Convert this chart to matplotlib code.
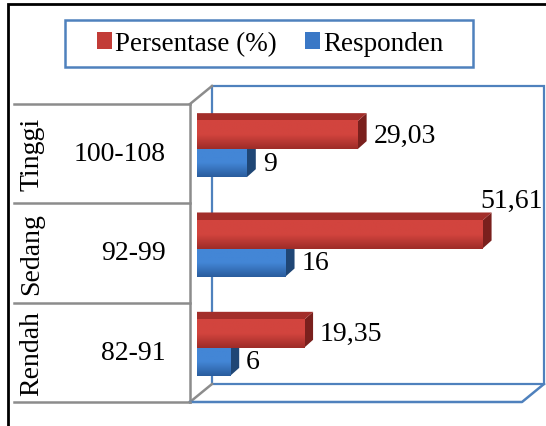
import matplotlib.pyplot as plt
import numpy as np
from matplotlib.patches import Polygon, Rectangle, Patch
from matplotlib.colors import LinearSegmentedColormap

categories = ['Rendah', 'Sedang', 'Tinggi']
ranges = ['82-91', '92-99', '100-108']
persentase = [19.35, 51.61, 29.03]
responden = [6, 16, 9]
persentase_labels = ['19,35', '51,61', '29,03']
responden_labels = ['6', '16', '9']

plt.rcParams['font.family'] = ['Liberation Serif', 'DejaVu Serif']
FS = 20

W, H, DPI = 546, 427, 100
fig = plt.figure(figsize=(W / DPI, H / DPI), dpi=DPI)


def px_box(x0, y0, x1, y1):
    # pixel box (y measured from top) -> figure fraction rect
    return [x0 / W, 1 - y1 / H, (x1 - x0) / W, (y1 - y0) / H]


# outer frame
fig.add_artist(Rectangle((8 / W, -0.2), 1.2, 1 - 5 / H + 0.2, transform=fig.transFigure,
                         fill=False, edgecolor='black', lw=2))

# front plane of the 3d plot area
ax = fig.add_axes(px_box(190, 105, 522, 403))
XMAX = 60
ax.set_xlim(0, XMAX)
ax.set_ylim(0, 3)
ax.axis('off')
sx = (522 - 190) / XMAX
sy = (403 - 105) / 3


def off(px, py):
    return px / sx, py / sy


grey = '#8c8c8c'
blue_edge = '#4f81bd'
dX, dY = off(22, 18)

# walls
ax.plot([0, 0], [0, 3], color=grey, lw=1.8, clip_on=False)
ax.plot([0, dX], [3, 3 + dY], color=grey, lw=1.8, clip_on=False)
ax.plot([0, dX], [0, dY], color=grey, lw=1.8, clip_on=False)
ax.add_patch(Rectangle((dX, dY), XMAX, 3, fill=False, edgecolor=blue_edge, lw=1.6, clip_on=False))
ax.plot([0, XMAX, XMAX + dX], [0, 0, dY], color=blue_edge, lw=1.8, clip_on=False)

# table on the left
tx0 = -(190 - 14) / sx
for yy in range(4):
    ax.plot([tx0, 0], [yy, yy], color=grey, lw=1.8, clip_on=False)
for i, (cat, rng) in enumerate(zip(categories, ranges)):
    ax.text(-(190 - 166) / sx, i + 0.5, rng, ha='right', va='center', fontsize=FS)
    ax.text(-(190 - 32) / sx, i + 0.5, cat, ha='center', va='center', rotation=90, fontsize=FS)

# bars
fx, fy = off(7, 4.5)    # front face depth offset
bx, by = off(9, 8)      # bar depth
bh = 0.282

red = dict(front=('#d2443e', '#9e2c28'), top='#a32e2a', side='#7a201d')
blu = dict(front=('#4386d6', '#2a5d9e'), top='#2f63a6', side='#1f4675')


def bar3d(v, y0, st, z):
    x0 = fx
    y0 = y0 + fy
    y1 = y0 + bh
    xe = v + fx
    ax.add_patch(Polygon([(xe, y0), (xe + bx, y0 + by), (xe + bx, y1 + by), (xe, y1)],
                         closed=True, facecolor=st['side'], edgecolor='none', clip_on=False, zorder=z))
    ax.add_patch(Polygon([(x0, y1), (xe, y1), (xe + bx, y1 + by), (x0, y1 + by)],
                         closed=True, facecolor=st['top'], edgecolor='none', clip_on=False, zorder=z))
    cmap = LinearSegmentedColormap.from_list('g', [st['front'][1], st['front'][0], st['front'][0]])
    im = ax.imshow(np.linspace(0, 1, 50)[:, None], cmap=cmap, origin='lower', aspect='auto',
                   extent=(x0, xe, y0, y1), interpolation='bilinear', zorder=z + 0.5)
    im.set_clip_on(False)
    return xe, (y0 + y1) / 2, y1


for i in range(3):
    c = i + 0.5
    xe, yc, _ = bar3d(responden[i], c - bh, blu, 2)
    ax.annotate(responden_labels[i], (xe, yc), xytext=(16, 0), textcoords='offset pixels',
                ha='left', va='center', fontsize=FS, annotation_clip=False)
    xe, yc, yt = bar3d(persentase[i], c, red, 4)
    if xe + bx > XMAX * 0.75:
        ax.annotate(persentase_labels[i], (XMAX + dX, yt), xytext=(-1, 20), textcoords='offset pixels',
                    ha='right', va='center', fontsize=FS, annotation_clip=False)
    else:
        ax.annotate(persentase_labels[i], (xe, yc), xytext=(16, 0), textcoords='offset pixels',
                    ha='left', va='center', fontsize=FS, annotation_clip=False)

ax.set_xlim(0, XMAX)
ax.set_ylim(0, 3)

# legend
fig.add_artist(Rectangle((65 / W, 1 - 68 / H), 408 / W, 47 / H, transform=fig.transFigure,
                         fill=False, edgecolor=blue_edge, lw=1.8))
handles = [Patch(facecolor='#c23c37'), Patch(facecolor='#3a78c6')]
fig.legend(handles, ['Persentase (%)', 'Responden'], loc='center',
           bbox_to_anchor=(270 / W, 1 - 44.5 / H), ncol=2, frameon=False, fontsize=19.5,
           handlelength=0.55, handleheight=0.55, handletextpad=0.12, columnspacing=1.05)

fig.savefig('out.png', dpi=DPI)
